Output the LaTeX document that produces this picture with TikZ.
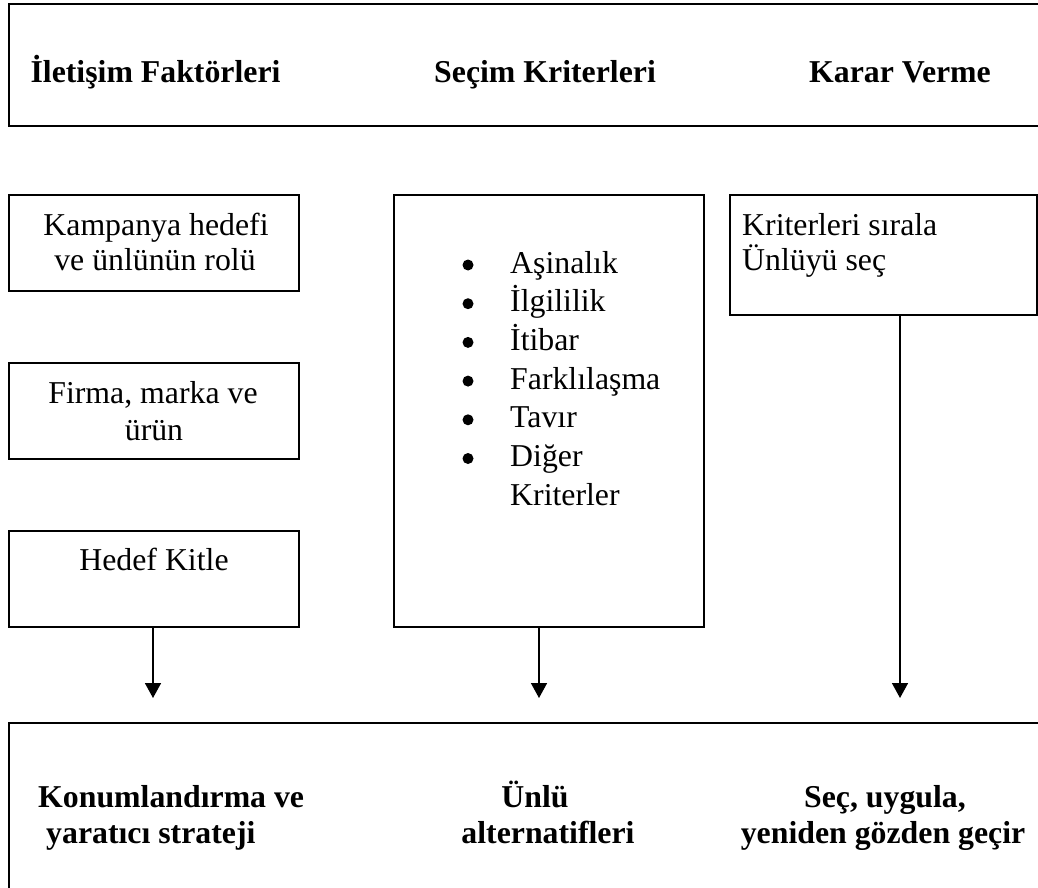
\documentclass[tikz,border=0pt]{standalone}
\usepackage{fontspec}
\setmainfont{Liberation Serif}
\usetikzlibrary{arrows.meta}
\begin{document}
\begin{tikzpicture}[x=1pt,y=-1pt,
  frame/.style={draw, line width=1.6pt, inner sep=0pt, anchor=north west},
  txt/.style={font=\fontsize{31.8}{36}\selectfont, anchor=base, inner sep=0pt},
  txtl/.style={txt, anchor=base west},
  head/.style={txt, font=\fontsize{31.8}{36}\selectfont\bfseries},
  headl/.style={head, anchor=base west},
  dot/.style={circle, fill, inner sep=0pt, minimum size=11pt},
  flow/.style={line width=1.6pt, -{Triangle[length=15pt,width=16pt]}},
]
\useasboundingbox (0,0) rectangle (1038,888);
\clip (0,0) rectangle (1038,888);

% frames
\node[frame, minimum width=1052pt, minimum height=122pt] (top) at (8,3) {};
\node[frame, minimum width=290pt, minimum height=96pt] (k1) at (8,194) {};
\node[frame, minimum width=290pt, minimum height=96pt] (k2) at (8,362) {};
\node[frame, minimum width=290pt, minimum height=96pt] (k3) at (8,530) {};
\node[frame, minimum width=310pt, minimum height=432pt] (sc) at (393,194) {};
\node[frame, minimum width=307pt, minimum height=120pt] (kv) at (729,194) {};
\node[frame, minimum width=1052pt, minimum height=200pt] (bt) at (8,722) {};

% column headings
\node[head] (h1) at (155.5,83) {İletişim Faktörleri};
\node[head] (h2) at (545,83) {Seçim Kriterleri};
\node[head] (h3) at (900,83) {Karar Verme};

% communication factors
\node[txt] (k1a) at (156,235) {Kampanya hedefi};
\node[txt] (k1b) at (155,270) {ve ünlünün rolü};
\node[txt] (k2a) at (153,403) {Firma, marka ve};
\node[txt] (k2b) at (154,440) {ürün};
\node[txt] (k3a) at (154,570) {Hedef Kitle};

% selection criteria
\foreach \t [count=\i from 0] in {Aşinalık,İlgililik,İtibar,Farklılaşma,Tavır,Diğer} {
  \node[dot] (b\i) at (468,273+38.7*\i-8) {};
  \node[txtl] (c\i) at (510,273+38.7*\i) {\t};
}
\node[txtl] (c6) at (510,505.5) {Kriterler};

% decision
\node[txtl] (kv1) at (742,235) {Kriterleri sırala};
\node[txtl] (kv2) at (742,270) {Ünlüyü seç};

% outcomes
\node[headl] (o1a) at (38,807) {Konumlandırma ve};
\node[headl] (o1b) at (46,843) {yaratıcı strateji};
\node[head] (o2a) at (535,807) {Ünlü};
\node[head] (o2b) at (548,843) {alternatifleri};
\node[head] (o3a) at (885,807) {Seç, uygula,};
\node[head] (o3b) at (883,843) {yeniden gözden geçir};

% arrows
\coordinate (a1) at (153,698);
\coordinate (a2) at (539,698);
\coordinate (a3) at (900,698);
\draw[flow] (k3.south -| a1) -- (a1);
\draw[flow] (sc.south -| a2) -- (a2);
\draw[flow] (kv.south -| a3) -- (a3);
\end{tikzpicture}
\end{document}
